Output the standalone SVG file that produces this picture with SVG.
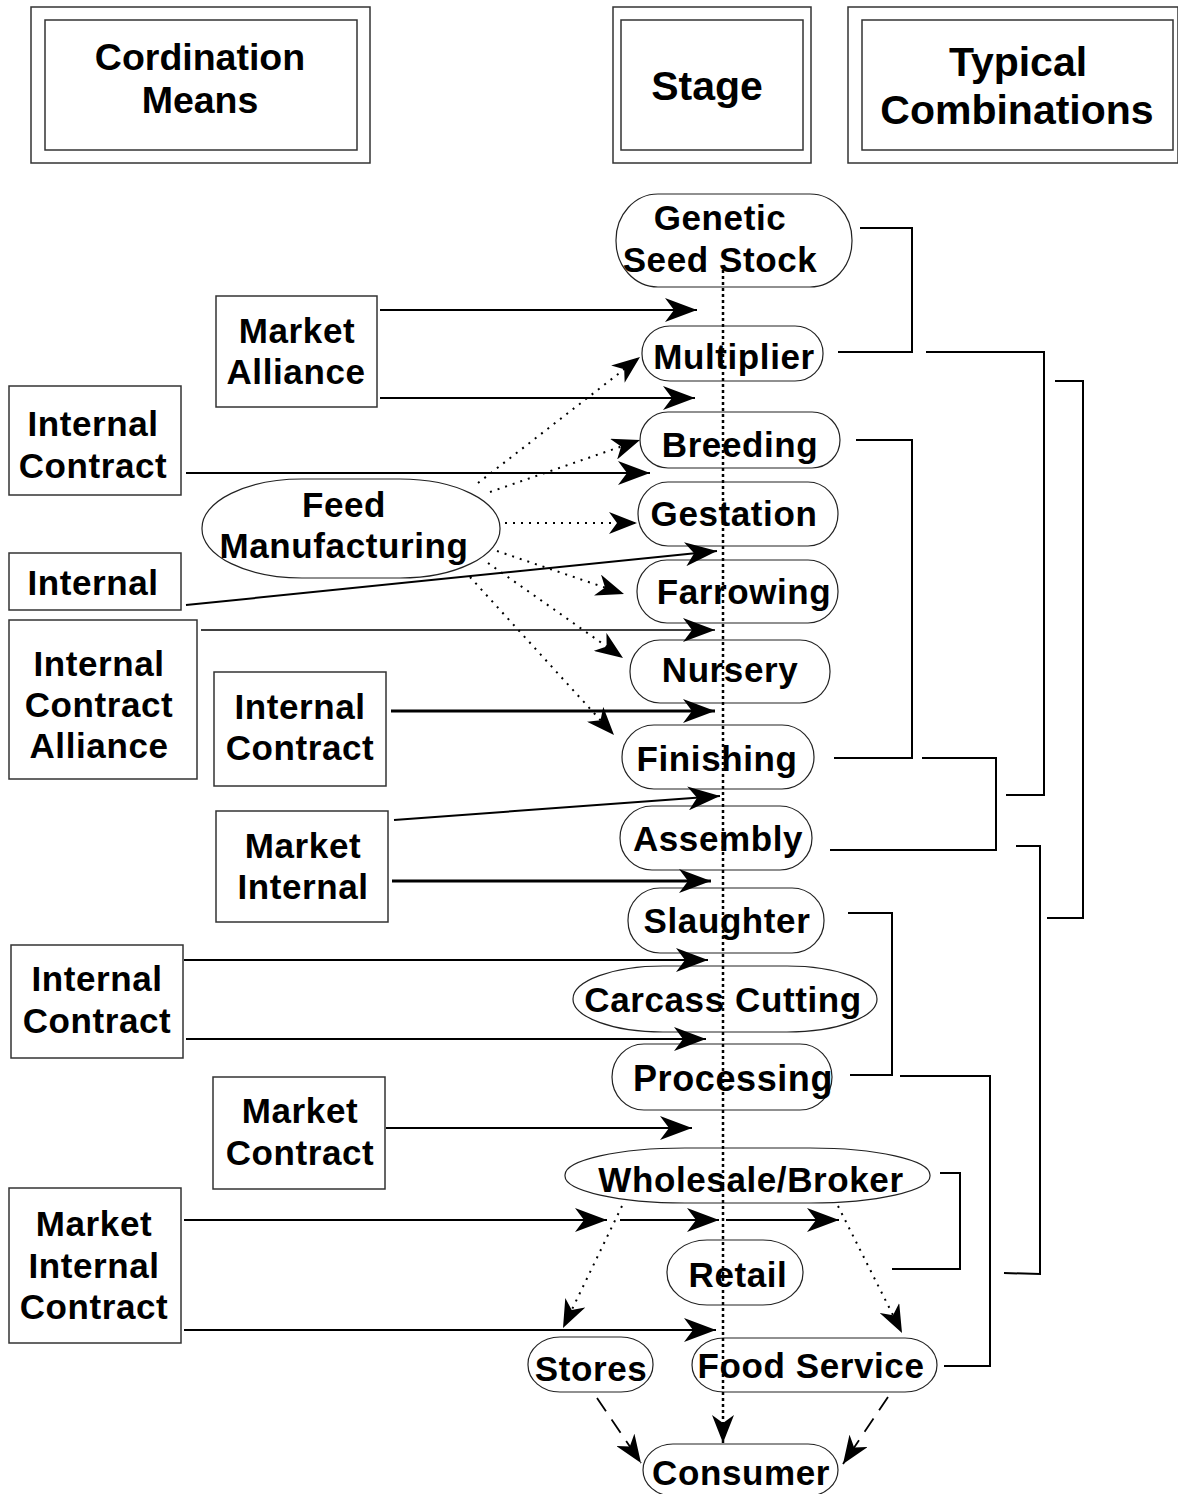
<svg xmlns="http://www.w3.org/2000/svg" width="1178" height="1494" viewBox="0 0 1178 1494">
<style>
.box{fill:#fff;stroke:#333;stroke-width:1.5}
.nd{fill:#fff;stroke:#222;stroke-width:1.2}
.t{font-family:"Liberation Sans",Arial,sans-serif;font-weight:bold;font-size:35px;letter-spacing:0.6px;text-anchor:middle;fill:#000}
.h{font-family:"Liberation Sans",Arial,sans-serif;font-weight:bold;font-size:41px;text-anchor:middle;fill:#000}
.c{fill:none;stroke:#000;stroke-width:2}
.thick{stroke-width:3}
.dot{fill:none;stroke:#000;stroke-width:2;stroke-dasharray:2 6}
.vdot{fill:none;stroke:#000;stroke-width:2.5;stroke-dasharray:3 3}
.dash{fill:none;stroke:#000;stroke-width:1.8;stroke-dasharray:16 10}
.br{fill:none;stroke:#000;stroke-width:2}
</style>
<defs>
<marker id="ah" viewBox="0 0 32 24" refX="32" refY="12" markerWidth="32" markerHeight="24" markerUnits="userSpaceOnUse" orient="auto"><path d="M0,0 L32,12 L0,24 L9,12 Z" fill="#000"/></marker>
<marker id="ahs" viewBox="0 0 28 22" refX="28" refY="11" markerWidth="28" markerHeight="22" markerUnits="userSpaceOnUse" orient="auto"><path d="M0,0 L28,11 L0,22 L8,11 Z" fill="#000"/></marker>
</defs>
<rect width="1178" height="1494" fill="#fff"/>

<g id="hdr-coordination">
<rect class="box" x="31" y="7" width="339" height="156"/>
<rect class="box" x="45" y="20" width="312" height="130"/>
<text class="h" x="200" y="70" style="font-size:37.5px">Cordination</text>
<text class="h" x="200" y="113" style="font-size:37.5px">Means</text>
</g>
<g id="hdr-stage">
<rect class="box" x="613" y="7" width="198" height="156"/>
<rect class="box" x="621" y="20" width="182" height="130"/>
<text class="h" x="707" y="100">Stage</text>
</g>
<g id="hdr-combinations">
<rect class="box" x="848" y="7" width="330" height="156"/>
<rect class="box" x="862" y="20" width="311" height="130"/>
<text class="h" x="1018" y="76">Typical</text>
<text class="h" x="1017" y="124">Combinations</text>
</g>

<g id="n-genetic"><rect class="nd" x="616" y="194" width="236" height="93" rx="42" ry="46"/><text class="t" x="720" y="230">Genetic</text><text class="t" x="720" y="272">Seed Stock</text></g>
<g id="n-multiplier"><rect class="nd" x="642" y="326" width="181" height="55" rx="28" ry="27"/><text class="t" x="734" y="369">Multiplier</text></g>
<g id="n-breeding"><rect class="nd" x="640" y="412" width="200" height="56" rx="28" ry="28"/><text class="t" x="740" y="457">Breeding</text></g>
<g id="n-gestation"><rect class="nd" x="638" y="482" width="200" height="64" rx="30" ry="32"/><text class="t" x="734" y="526">Gestation</text></g>
<g id="n-farrowing"><rect class="nd" x="637" y="560" width="201" height="63" rx="30" ry="31"/><text class="t" x="744" y="604">Farrowing</text></g>
<g id="n-nursery"><rect class="nd" x="630" y="640" width="200" height="63" rx="30" ry="31"/><text class="t" x="730" y="682">Nursery</text></g>
<g id="n-finishing"><rect class="nd" x="622" y="725" width="192" height="64" rx="32" ry="32"/><text class="t" x="717" y="771">Finishing</text></g>
<g id="n-assembly"><rect class="nd" x="620" y="806" width="192" height="64" rx="32" ry="32"/><text class="t" x="718" y="851">Assembly</text></g>
<g id="n-slaughter"><rect class="nd" x="628" y="888" width="196" height="65" rx="32" ry="32"/><text class="t" x="727" y="933">Slaughter</text></g>
<g id="n-carcass"><rect class="nd" x="573" y="966" width="304" height="66" rx="90" ry="33"/><text class="t" x="723" y="1012">Carcass Cutting</text></g>
<g id="n-processing"><rect class="nd" x="612" y="1044" width="220" height="66" rx="32" ry="33"/><text class="t" x="733" y="1091" style="font-size:36px">Processing</text></g>
<g id="n-wholesale"><rect class="nd" x="565" y="1148" width="365" height="55" rx="120" ry="27"/><text class="t" x="751" y="1192">Wholesale/Broker</text></g>
<g id="n-retail"><rect class="nd" x="667" y="1240" width="136" height="65" rx="40" ry="32"/><text class="t" x="738" y="1287">Retail</text></g>
<g id="n-stores"><rect class="nd" x="528" y="1337" width="125" height="55" rx="32" ry="27"/><text class="t" x="591" y="1381">Stores</text></g>
<g id="n-foodservice"><rect class="nd" x="692" y="1338" width="245" height="54" rx="32" ry="27"/><text class="t" x="811" y="1378">Food Service</text></g>
<g id="n-consumer"><rect class="nd" x="643" y="1444" width="195" height="52" rx="30" ry="26"/><text class="t" x="741" y="1485">Consumer</text></g>
<g id="n-feed"><rect class="nd" x="202" y="479" width="298" height="99" rx="100" ry="49"/><text class="t" x="344" y="517">Feed</text><text class="t" x="344" y="558">Manufacturing</text></g>

<g id="m-market-alliance"><rect class="box" x="216" y="296" width="161" height="111"/><text class="t" x="297" y="343">Market</text><text class="t" x="296" y="384">Alliance</text></g>
<g id="m-internal-contract-1"><rect class="box" x="9" y="386" width="172" height="109"/><text class="t" x="93" y="436">Internal</text><text class="t" x="93" y="478">Contract</text></g>
<g id="m-internal"><rect class="box" x="9" y="553" width="172" height="57"/><text class="t" x="93" y="595">Internal</text></g>
<g id="m-ica"><rect class="box" x="9" y="620" width="188" height="159"/><text class="t" x="99" y="676">Internal</text><text class="t" x="99" y="717">Contract</text><text class="t" x="99" y="758">Alliance</text></g>
<g id="m-internal-contract-2"><rect class="box" x="214" y="672" width="172" height="114"/><text class="t" x="300" y="719">Internal</text><text class="t" x="300" y="760">Contract</text></g>
<g id="m-market-internal"><rect class="box" x="216" y="811" width="172" height="111"/><text class="t" x="303" y="858">Market</text><text class="t" x="303" y="899">Internal</text></g>
<g id="m-internal-contract-3"><rect class="box" x="11" y="945" width="172" height="113"/><text class="t" x="97" y="991">Internal</text><text class="t" x="97" y="1033">Contract</text></g>
<g id="m-market-contract"><rect class="box" x="213" y="1077" width="172" height="112"/><text class="t" x="300" y="1123">Market</text><text class="t" x="300" y="1165">Contract</text></g>
<g id="m-mic"><rect class="box" x="9" y="1188" width="172" height="155"/><text class="t" x="94" y="1236">Market</text><text class="t" x="94" y="1278">Internal</text><text class="t" x="94" y="1319">Contract</text></g>

<g id="connectors">
<line class="c" x1="380" y1="310" x2="697" y2="310" marker-end="url(#ah)"/>
<line class="c" x1="380" y1="398" x2="695" y2="398" marker-end="url(#ah)"/>
<line class="c" x1="186" y1="473" x2="650" y2="473" marker-end="url(#ah)"/>
<line class="c" x1="186" y1="605" x2="717" y2="551" marker-end="url(#ah)"/>
<line class="c" style="stroke-width:1.5" x1="201" y1="630" x2="715" y2="630" marker-end="url(#ah)"/>
<line class="c thick" x1="391" y1="711" x2="715" y2="711" marker-end="url(#ah)"/>
<line class="c" x1="394" y1="820" x2="720" y2="796" marker-end="url(#ah)"/>
<line class="c thick" x1="392" y1="881" x2="711" y2="881" marker-end="url(#ah)"/>
<line class="c" x1="184" y1="960" x2="708" y2="960" marker-end="url(#ah)"/>
<line class="c" x1="186" y1="1039" x2="706" y2="1039" marker-end="url(#ah)"/>
<line class="c" x1="386" y1="1128" x2="692" y2="1128" marker-end="url(#ah)"/>
<line class="c" x1="184" y1="1220" x2="607" y2="1220" marker-end="url(#ah)"/>
<line class="c" x1="620" y1="1220" x2="719" y2="1220" marker-end="url(#ah)"/>
<line class="c" x1="726" y1="1220" x2="839" y2="1220" marker-end="url(#ah)"/>
<line class="c" x1="184" y1="1330" x2="716" y2="1330" marker-end="url(#ah)"/>

<line class="dot" x1="478" y1="483" x2="640" y2="357" marker-end="url(#ahs)"/>
<line class="dot" x1="490" y1="492" x2="640" y2="440" marker-end="url(#ahs)"/>
<line class="dot" x1="505" y1="523" x2="637" y2="523" marker-end="url(#ahs)"/>
<line class="dot" x1="497" y1="551" x2="624" y2="594" marker-end="url(#ahs)"/>
<line class="dot" x1="488" y1="563" x2="623" y2="658" marker-end="url(#ahs)"/>
<line class="dot" x1="470" y1="577" x2="614" y2="735" marker-end="url(#ahs)"/>
<line class="dot" x1="622" y1="1206" x2="563" y2="1328" marker-end="url(#ahs)"/>
<line class="dot" x1="838" y1="1206" x2="902" y2="1333" marker-end="url(#ahs)"/>

<line class="vdot" x1="723" y1="270" x2="723" y2="1443" marker-end="url(#ahs)"/>

<line class="dash" x1="597" y1="1398" x2="641" y2="1463" marker-end="url(#ahs)"/>
<line class="dash" x1="888" y1="1397" x2="843" y2="1464" marker-end="url(#ahs)"/>

<polyline class="br" points="860,228 912,228 912,352 838,352"/>
<polyline class="br" points="926,352 1044,352 1044,795 1006,795"/>
<polyline class="br" points="1055,381 1083,381 1083,918 1047,918"/>
<polyline class="br" points="856,440 912,440 912,758 834,758"/>
<polyline class="br" points="922,758 996,758 996,850 830,850"/>
<polyline class="br" points="1016,846 1040,846 1040,1274 1004,1273"/>
<polyline class="br" points="848,913 892,913 892,1075 850,1075"/>
<polyline class="br" points="900,1076 990,1076 990,1366 944,1366"/>
<polyline class="br" points="940,1173 960,1173 960,1269 892,1269"/>
</g>
</svg>
